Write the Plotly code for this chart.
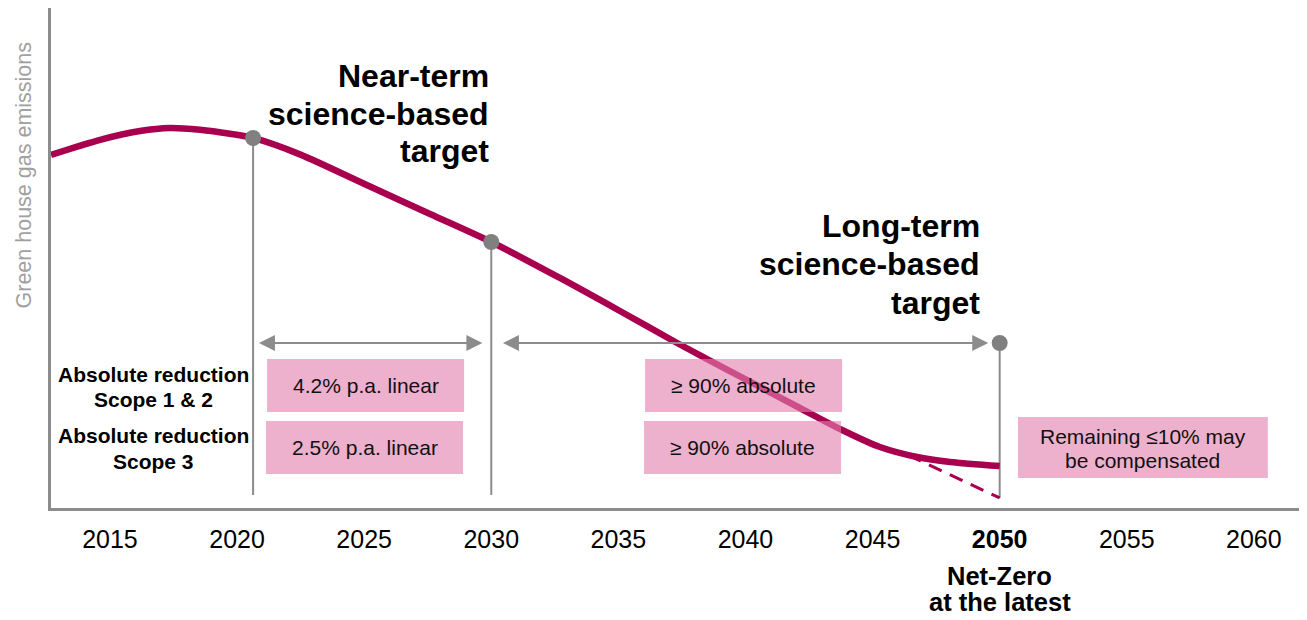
import plotly.graph_objects as go

# ── palette ──────────────────────────────────────────────────────────────────
CURVE_CLR = "#A8004F"
GREY      = "#8C8C8C"
DOT_CLR   = "#808080"
BOX_FILL  = "rgba(226,128,175,0.62)"
LABEL_CLR = "#A0A0A0"
FONT      = "Liberation Sans, Arial, sans-serif"

# ── data (emissions index) ──────────────────────────────────────────────────
curve_years  = [2012.68, 2014.61, 2016.18, 2017.36, 2018.54, 2019.72, 2020.63,
                2022.47, 2025.23, 2027.59, 2030.0, 2032.70, 2035.06, 2037.31,
                2038.49, 2040.57, 2042.14, 2043.80, 2045.29, 2046.75, 2048.05,
                2050.0]
curve_values = [70.2, 73.2, 74.95, 75.55, 75.2, 74.4, 73.56,
                70.3, 63.9, 58.45, 52.88, 45.73, 39.17, 32.80,
                29.62, 24.06, 19.88, 15.51, 12.13, 10.14, 9.15,
                8.35]

dash_years  = [2046.4, 2050]
dash_values = [10.5, 2.0]

target_years  = [2020.63, 2030, 2050]
target_values = [73.56, 52.88, 32.8]
drop_bottoms  = [2.6, 2.6, 2.0]

tick_years  = [2015, 2020, 2025, 2030, 2035, 2040, 2045, 2050, 2055, 2060]
tick_labels = ["2015", "2020", "2025", "2030", "2035", "2040", "2045",
               "<b>2050</b>", "2055", "2060"]

row_labels  = [["Absolute reduction", "Scope 1 & 2"],
               ["Absolute reduction", "Scope 3"]]
near_texts  = ["4.2% p.a. linear", "2.5% p.a. linear"]
long_texts  = ["≥ 90% absolute", "≥ 90% absolute"]
offset_text = ["Remaining ≤10% may", "be compensated"]
near_title  = ["Near-term", "science-based", "target"]
long_title  = ["Long-term", "science-based", "target"]
netzero     = ["Net-Zero", "at the latest"]

fig = go.Figure()


def text_lines(lines, x, ys, size, bold=False, xanchor="center", yref="y",
               color="#000000"):
    for ln, yy in zip(lines, ys):
        fig.add_annotation(x=x, y=yy, yref=yref, xanchor=xanchor,
                           yanchor="middle",
                           text=f"<b>{ln}</b>" if bold else ln,
                           showarrow=False, font=dict(size=size, color=color))


# drop lines from each target point
dx, dy = [], []
for yr, top, bot in zip(target_years, target_values, drop_bottoms):
    dx += [yr, yr, None]
    dy += [top, bot, None]
fig.add_trace(go.Scatter(x=dx, y=dy, mode="lines",
                         line=dict(color=GREY, width=2), hoverinfo="skip"))

# dashed net-zero path
fig.add_trace(go.Scatter(x=dash_years, y=dash_values, mode="lines",
                         line=dict(color=CURVE_CLR, width=3, dash="14px,9px"),
                         hoverinfo="skip"))

# emissions curve
fig.add_trace(go.Scatter(x=curve_years, y=curve_values, mode="lines",
                         line=dict(color=CURVE_CLR, width=6.5, shape="spline",
                                   smoothing=0.8),
                         hoverinfo="skip"))

# target markers
fig.add_trace(go.Scatter(x=target_years, y=target_values, mode="markers",
                         marker=dict(color=DOT_CLR, size=16), hoverinfo="skip"))

# ── pink boxes ───────────────────────────────────────────────────────────────
boxes = [
    (2021.18, 2028.93, 19.09, 29.62, [near_texts[0]]),
    (2021.14, 2028.89, 6.76, 17.30, [near_texts[1]]),
    (2036.05, 2043.80, 19.09, 29.62, [long_texts[0]]),
    (2036.01, 2043.76, 6.76, 17.30, [long_texts[1]]),
]
for x0, x1, y0, y1, txt in boxes:
    fig.add_shape(type="rect", x0=x0, x1=x1, y0=y0, y1=y1, layer="above",
                  fillcolor=BOX_FILL, line=dict(width=0))
    text_lines(txt, (x0 + x1) / 2, [(y0 + y1) / 2], 21, color="#111111")

fig.add_shape(type="rect", x0=2050.72, x1=2060.55, y0=5.96, y1=18.09,
              layer="above", fillcolor=BOX_FILL, line=dict(width=0))
text_lines(offset_text, (2050.72 + 2060.55) / 2, [14.31, 9.54], 21,
           color="#111111")

# ── double arrows ────────────────────────────────────────────────────────────
for a, b in [(2020.8, 2029.65), (2030.4, 2049.55)]:
    fig.add_annotation(x=b, y=32.8, ax=a, ay=32.8, axref="x", ayref="y",
                       text="", showarrow=True, arrowside="end+start",
                       arrowhead=2, arrowsize=1.6, arrowwidth=2,
                       arrowcolor=GREY)

# ── headings & labels ────────────────────────────────────────────────────────
text_lines(near_title, 2030, [85.88, 78.23, 70.97], 32, bold=True,
           xanchor="right")
text_lines(long_title, 2049.3, [56.06, 48.41, 40.85], 32, bold=True,
           xanchor="right")

text_lines(row_labels[0], 2016.7, [26.64, 21.67], 21, bold=True)
text_lines(row_labels[1], 2016.7, [14.51, 9.34], 21, bold=True)

text_lines(netzero, 2050, [-0.136, -0.188], 25.5, bold=True, yref="paper")

fig.add_annotation(xref="paper", x=-0.0215, y=66.3, textangle=-90,
                   xanchor="center", yanchor="middle",
                   text="Green house gas emissions", showarrow=False,
                   font=dict(size=21.5, color=LABEL_CLR))

# page body has an 8px margin, so the figure is sized/offset to compensate
fig.update_layout(
    width=1299, height=612,
    paper_bgcolor="#ffffff", plot_bgcolor="#ffffff",
    margin=dict(l=43, r=0, t=0, b=112),
    showlegend=False,
    font=dict(family=FONT, color="#000000"),
    xaxis=dict(range=[2012.68, 2062.09], showgrid=False, zeroline=False,
               showline=True, linecolor=GREY, linewidth=3,
               tickmode="array", tickvals=tick_years, ticktext=tick_labels,
               ticks="", ticklabelstandoff=7,
               tickfont=dict(size=25, color="#000000")),
    yaxis=dict(range=[0, 99.4], showgrid=False, zeroline=False,
               showline=True, linecolor=GREY, linewidth=3,
               showticklabels=False, ticks=""),
)

fig.write_html("out.html")
